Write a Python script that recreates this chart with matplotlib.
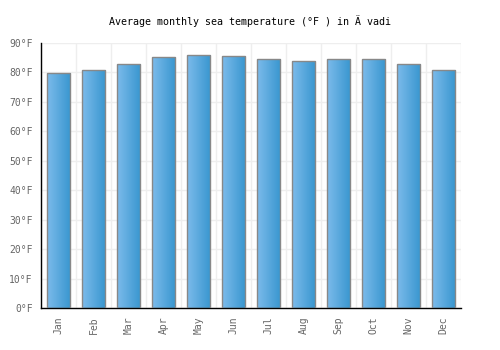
import matplotlib
matplotlib.use("Agg")
import matplotlib.pyplot as plt
import numpy as np
from matplotlib.colors import LinearSegmentedColormap
from matplotlib.patches import Rectangle

months = ["Jan", "Feb", "Mar", "Apr", "May", "Jun", "Jul", "Aug", "Sep", "Oct", "Nov", "Dec"]
temps = [79.7, 80.8, 82.8, 85.3, 86.0, 85.6, 84.6, 83.9, 84.6, 84.6, 82.8, 80.8]
yticks = [0, 10, 20, 30, 40, 50, 60, 70, 80, 90]
ytick_labels = [f"{v}°F" for v in yticks]
title = "Average monthly sea temperature (°F ) in Ä vadi"

plt.rcParams['font.family'] = ['DejaVu Sans Mono', 'DejaVu Sans']

fig = plt.figure(figsize=(5, 3.5), dpi=100)
ax = fig.add_axes([0.082, 0.12, 0.84, 0.757])

x = np.arange(len(months))
width = 0.68
cmap = LinearSegmentedColormap.from_list("g", ["#7cbbeb", "#3896cf"])
grad = np.linspace(0, 1, 64).reshape(1, -1)

bars = ax.bar(x, temps, width=width, facecolor="none", edgecolor="#888888", linewidth=1.0, zorder=3)
for b in bars:
    x0, y0 = b.get_x(), b.get_y()
    w, h = b.get_width(), b.get_height()
    im = ax.imshow(grad, cmap=cmap, aspect="auto", extent=(x0, x0 + w, y0, y0 + h), zorder=2,
                   interpolation="bilinear")
    im.set_clip_path(Rectangle((x0, y0), w, h, transform=ax.transData))

ax.set_xlim(-0.5, len(months) - 0.5)
ax.set_ylim(0, 90)
ax.set_yticks(yticks)
ax.set_yticklabels(ytick_labels, fontsize=7, color="#666666")
ax.set_xticks(x)
ax.set_xticklabels(months, rotation=90, fontsize=7, color="#666666")
ax.set_xticks(np.arange(-0.5, len(months), 1), minor=True)
ax.grid(True, which="minor", axis="x", color="#eeeeee", linewidth=1, zorder=0)
ax.grid(True, which="major", axis="y", color="#eeeeee", linewidth=1, zorder=0)
ax.tick_params(axis="both", which="both", length=0, pad=6)
for s in ["top", "right"]:
    ax.spines[s].set_visible(False)
for s in ["left", "bottom"]:
    ax.spines[s].set_color("black")
    ax.spines[s].set_linewidth(1)
ax.set_axisbelow(True)

fig.text(0.5, 0.94, title, ha="center", va="center", fontsize=7.2, color="black")

fig.savefig("out.png", dpi=100)
